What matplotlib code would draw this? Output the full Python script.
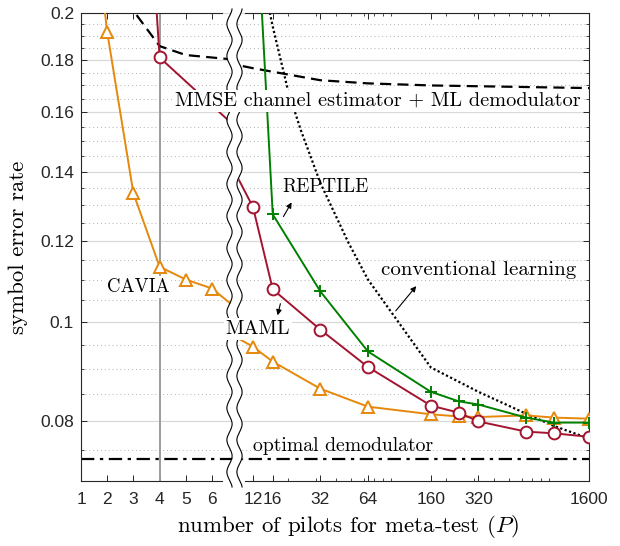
import numpy as np
import matplotlib.pyplot as plt
from matplotlib.ticker import FixedLocator, FixedFormatter, NullFormatter

plt.rcParams['mathtext.fontset'] = 'cm'

# symbol error rate vs. number of pilots P
p_cavia = [1, 2, 3, 4, 5, 6, 8, 12, 16, 32, 64, 160, 240, 320, 640, 960, 1600]
ser_cavia = [0.32, 0.1916, 0.1335, 0.1132, 0.110, 0.1078, 0.098, 0.0946, 0.0915,
             0.0861, 0.0827, 0.0813, 0.0809, 0.0808, 0.0811, 0.0807, 0.0805]

p_maml = [3, 4, 8, 12, 16, 32, 64, 160, 240, 320, 640, 960, 1600]
ser_maml = [0.45, 0.181, 0.146, 0.1294, 0.1076, 0.0983, 0.0904, 0.0829, 0.0816,
            0.0800, 0.0782, 0.0779, 0.0773]

p_reptile = [12, 16, 32, 64, 160, 240, 320, 640, 960, 1600]
ser_reptile = [0.29, 0.1273, 0.1071, 0.0936, 0.0855, 0.0837, 0.0831, 0.0807,
               0.0798, 0.0798]

p_conv = [12, 16, 20, 24, 32, 48, 64, 160, 320, 640, 960, 1600]
ser_conv = [0.239, 0.194, 0.168, 0.154, 0.1366, 0.1196, 0.110, 0.0903, 0.0855,
            0.0814, 0.0792, 0.0770]

p_mmse = [2, 3, 4, 5, 6, 8, 12, 16, 32, 64, 160, 1600]
ser_mmse = [0.28, 0.201, 0.1857, 0.182, 0.181, 0.179, 0.1767, 0.1753, 0.172,
            0.1708, 0.170, 0.169]

p_opt = [1, 1600]
ser_opt = [0.0735, 0.0735]

y_major = [0.08, 0.1, 0.12, 0.14, 0.16, 0.18, 0.2]
y_minor = [0.07, 0.075, 0.085, 0.09, 0.095, 0.105, 0.11, 0.115, 0.125, 0.13,
           0.135, 0.145, 0.15, 0.155, 0.165, 0.17, 0.175, 0.185, 0.19, 0.195]
x_left_ticks = [1, 2, 3, 4, 5, 6]
x_right_ticks = [12, 16, 32, 64, 160, 320, 1600]

c_cavia = '#E5880C'
c_maml = '#A2142F'
c_reptile = '#008000'

W, H = 620, 546
fig = plt.figure(figsize=(W / 100, H / 100), dpi=100)

x0, xs, x1 = 81, 234, 589
ytop, ybot = 13, 481
ax_l = fig.add_axes([x0 / W, 1 - ybot / H, (xs - x0) / W, (ybot - ytop) / H])
ax_r = fig.add_axes([xs / W, 1 - ybot / H, (x1 - xs) / W, (ybot - ytop) / H])

ax_l.set_xlim(1, 1 + (xs - x0) / 26.2)
ax_r.set_xscale('log')
ax_r.set_xlim(12 * np.exp((xs - 253) / 68.7), 1600)

sans = 'Liberation Sans'
serif = 'cmr10'
tick_col = '#262626'

for ax in (ax_l, ax_r):
    ax.set_yscale('log')
    ax.set_ylim(0.07, 0.2)
    ax.yaxis.set_major_locator(FixedLocator(y_major))
    ax.yaxis.set_minor_locator(FixedLocator(y_minor))
    ax.yaxis.set_minor_formatter(NullFormatter())
    ax.grid(True, which='major', axis='y', color='#d9d9d9', lw=0.9)
    ax.grid(True, which='minor', axis='y', color='#b0b0b0', lw=0.7, ls=(0, (1, 3)))
    ax.set_axisbelow(True)
    ax.tick_params(which='both', direction='in', top=True, colors=tick_col,
                   labelsize=12.5)
    ax.tick_params(which='major', length=4, width=0.7)
    ax.tick_params(which='minor', length=2.5, width=0.6)
    for s in ax.spines.values():
        s.set_color(tick_col)
        s.set_linewidth(0.8)

ax_l.yaxis.set_major_formatter(FixedFormatter([f'{v:g}' for v in y_major]))
ax_l.tick_params(axis='y', which='both', left=True, right=False, pad=5)
ax_l.spines['right'].set_visible(False)
ax_l.spines['top'].set_bounds(1, 6.38)
ax_l.spines['bottom'].set_bounds(1, 6.38)
ax_l.set_xticks(x_left_ticks)
ax_l.set_xticklabels([str(v) for v in x_left_ticks])

ax_r.yaxis.tick_right()
ax_r.tick_params(axis='y', which='both', labelright=False, left=False, right=True)
ax_r.spines['left'].set_visible(False)
ax_r.spines['top'].set_bounds(10.7, 1600)
ax_r.spines['bottom'].set_bounds(10.7, 1600)
ax_r.set_xticks(x_right_ticks)
ax_r.set_xticklabels([str(v) for v in x_right_ticks])
ax_r.xaxis.set_minor_formatter(NullFormatter())

for ax in (ax_l, ax_r):
    for lab in ax.get_xticklabels() + ax.get_yticklabels():
        lab.set_fontfamily(sans)
    ax.tick_params(axis='x', pad=8)

ax_l.axvline(4, color='#9c9c9c', lw=1.4, zorder=1.5)

for ax in (ax_l, ax_r):
    ax.plot(p_opt, ser_opt, color='black', lw=1.6, ls=(0, (6, 2.5, 1.5, 2.5)))
    ax.plot(p_mmse, ser_mmse, color='black', lw=1.6, ls=(0, (5, 2.8)))
    ax.plot(p_conv, ser_conv, color='black', lw=1.6, ls=(0, (1, 1.1)))
    ax.plot(p_cavia, ser_cavia, color=c_cavia, lw=1.4, marker='^', ms=9,
            mfc='white', mew=1.4, zorder=3)
    ax.plot(p_reptile, ser_reptile, color=c_reptile, lw=1.4, marker='+', ms=9,
            mew=1.4, zorder=3)
    ax.plot(p_maml, ser_maml, color=c_maml, lw=1.4, marker='o', ms=8.5,
            mfc='white', mew=1.4, zorder=4)

# overlay in pixel units for the axis break and labels
ov = fig.add_axes([0, 0, 1, 1], zorder=10)
ov.set_xlim(0, W)
ov.set_ylim(H, 0)
ov.axis('off')
ov.patch.set_alpha(0)

yy = np.linspace(9, 487, 400)
wl = 229.5 + 2.6 * np.sin(2 * np.pi * yy / 32)
wr = wl + 10
ov.fill_betweenx(yy, wl, wr, color='white', lw=0, zorder=1)
ov.plot(wl, yy, color='black', lw=0.8, zorder=2)
ov.plot(wr, yy, color='black', lw=0.8, zorder=2)

box = dict(facecolor='white', edgecolor='none', pad=1.5)
ov.text(378, 101, 'MMSE channel estimator + ML demodulator', family=serif,
        fontsize=14.6, ha='center', va='center', bbox=box, zorder=5)
ov.text(325, 187, 'REPTILE', family=serif, fontsize=13.8, ha='center',
        va='center', zorder=5)
ov.text(479, 270, 'conventional learning', family=serif, fontsize=15,
        ha='center', va='center', zorder=5)
ov.text(258, 329, 'MAML', family=serif, fontsize=14.5, ha='center',
        va='center', bbox=box, zorder=5)
ov.text(138, 287, 'CAVIA', family=serif, fontsize=13.5, ha='center',
        va='center', bbox=box, zorder=5)
ov.text(343, 446, 'optimal demodulator', family=serif, fontsize=14.2,
        ha='center', va='center', zorder=5)

arrow = dict(arrowstyle='-|>', color='black', lw=0.8, mutation_scale=8)
ov.annotate('', xy=(293, 200), xytext=(282, 219), arrowprops=arrow, zorder=5)
ov.annotate('', xy=(418, 284), xytext=(394, 313), arrowprops=arrow, zorder=5)
ov.annotate('', xy=(277, 318), xytext=(281, 301), arrowprops=arrow, zorder=5)

fig.text(18 / W, 1 - 247 / H, 'symbol error rate', family=serif, fontsize=16.5,
         rotation=90, ha='center', va='center')
fig.text(348 / W, 1 - 527 / H, r'number of pilots for meta-test ($P$)',
         family=serif, fontsize=16.5, ha='center', va='center')

fig.savefig('out.png', dpi=100)
